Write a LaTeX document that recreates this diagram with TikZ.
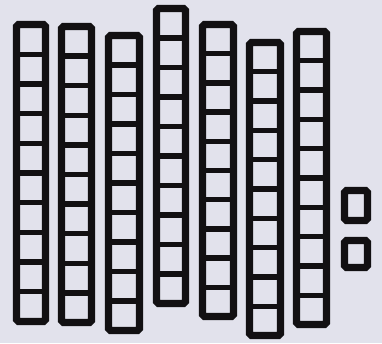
\documentclass[tikz,border=0pt]{standalone}
\usetikzlibrary{calc}
\definecolor{paper}{RGB}{226,226,236}
\definecolor{ink}{RGB}{18,16,18}

\begin{document}
\begin{tikzpicture}[x=0.0265cm, y=-0.0265cm,
  rodline/.style={draw=ink, line width=5.4pt, rounded corners=1.5pt},
  cellline/.style={draw=ink, line width=4pt},
]
  \fill[paper] (0,0) rectangle (382,343);
  \useasboundingbox (0,0) rectangle (382,343);
  % rods of ten: left, top, right, bottom
  \foreach \l/\t/\r/\b in {16.5/24.5/45.5/321.5, 61.5/26.5/91.5/322.5,
      108.5/35.5/139.5/330.5, 156.5/8.5/185.5/303.5, 202.5/24.5/233.5/316.5,
      249.5/42.5/280.5/335.5, 296.5/31.5/326.5/324.5} {
    \draw[rodline] (\l,\t) rectangle (\r,\b);
    \foreach \k in {1,...,9}
      \draw[cellline] (\l,{\t+\k*(\b-\t)/10}) -- (\r,{\t+\k*(\b-\t)/10});
  }
  % single units
  \draw[rodline] (344.5,190.5) rectangle (367.5,220.5);
  \draw[rodline] (344.5,240.5) rectangle (367.5,267.5);
\end{tikzpicture}
\end{document}
